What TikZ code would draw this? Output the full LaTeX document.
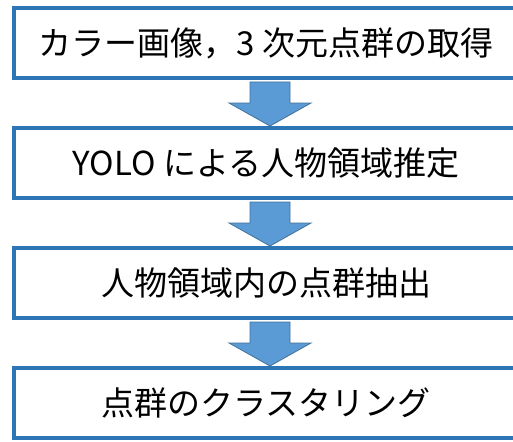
\documentclass[tikz,border=0pt]{standalone}
\usepackage{fontspec}
\setmainfont{Noto Sans CJK JP}
\usetikzlibrary{calc}
\definecolor{boxblue}{RGB}{46,117,182}
\definecolor{arrfill}{RGB}{91,155,213}
\definecolor{arrline}{RGB}{65,113,156}
\tikzset{
  stepbox/.style={draw=boxblue, line width=4pt, fill=white, outer sep=0pt,
    minimum width=504pt, minimum height=70pt, inner sep=0pt,
    font=\fontsize{33}{38}\selectfont, text=black},
  bigarrow/.style={fill=arrfill, draw=arrline, line width=0.8pt, line join=miter}
}
\newcommand{\flowarrow}[2]{%
  \path let \p1=(#1.south), \p2=(#2.north) in
    [bigarrow] (270pt-20pt,\y1-4pt) -- (270pt+20pt,\y1-4pt) -- (270pt+20pt,\y1-25pt)
    -- (270pt+41pt,\y1-25pt) -- (270pt,\y2+2pt) -- (270pt-41pt,\y1-25pt)
    -- (270pt-20pt,\y1-25pt) -- cycle;}
\begin{document}
\begin{tikzpicture}[x=1pt,y=-1pt]
\useasboundingbox (0,0) rectangle (513,441);
\fill[white] (0,0) rectangle (513,441);
\node[stepbox] (b1) at (266,43) {カラー画像，3 次元点群の取得};
\node[stepbox] (b2) at (266,163) {YOLO による人物領域推定};
\node[stepbox] (b3) at (266,283) {人物領域内の点群抽出};
\node[stepbox] (b4) at (266,403) {点群のクラスタリング};
\flowarrow{b1}{b2}
\flowarrow{b2}{b3}
\flowarrow{b3}{b4}
\end{tikzpicture}
\end{document}
